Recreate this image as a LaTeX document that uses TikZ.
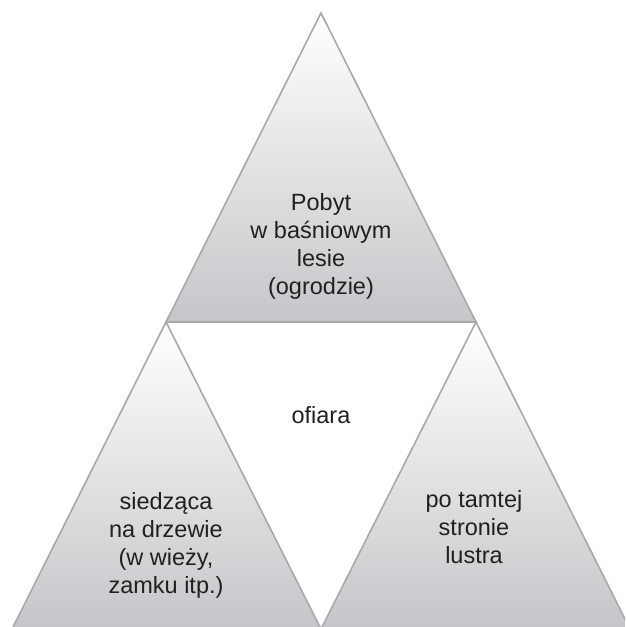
\documentclass[tikz,border=0pt]{standalone}
\usepackage{fontspec}
\setmainfont{Liberation Sans}
\usetikzlibrary{positioning, calc}

\begin{document}
\begin{tikzpicture}[x=1pt,y=-1pt,
  label text/.style={text=textColor, align=center, inner sep=0pt, outer sep=0pt,
    font=\fontsize{23.5}{28}\selectfont},
  tri edge/.style={draw=drawColor, line width=1.6pt, line join=miter},
  tri fill/.style={top color=white, bottom color=baseColor}]
\definecolor{drawColor}{RGB}{168,169,171}
\definecolor{baseColor}{RGB}{197,198,201}
\definecolor{textColor}{RGB}{35,31,32}
\path[use as bounding box,fill=white] (0,0) rectangle (625,627);
\begin{scope}
\path[clip] (0,0) rectangle (625,627);

% corners
\coordinate (apex)  at (321, 13);
\coordinate (midL)  at (166,322);
\coordinate (midR)  at (476,322);
\coordinate (baseL) at ( 12,629);
\coordinate (baseM) at (321,629);
\coordinate (baseR) at (630,629);

% three shaded triangles
\shade[tri fill] (apex) -- (midR) -- (midL) -- cycle;
\shade[tri fill] (midL) -- (baseM) -- (baseL) -- cycle;
\shade[tri fill] (midR) -- (baseR) -- (baseM) -- cycle;

\draw[tri edge] (apex) -- (midR) -- (midL) -- cycle;
\draw[tri edge] (midL) -- (baseM) -- (baseL) -- cycle;
\draw[tri edge] (midR) -- (baseR) -- (baseM) -- cycle;

% labels
\node[label text] (forest) at (321,246) {Pobyt\\w baśniowym\\lesie\\(ogrodzie)};
\node[label text] (victim) at (321,415.5) {ofiara};
\node[label text] (tree)   at (166,545) {siedząca\\na drzewie\\(w wieży,\\zamku itp.)};
\node[label text] (mirror) at (474,527.5) {po tamtej\\stronie\\lustra};
\end{scope}
\end{tikzpicture}
\end{document}
